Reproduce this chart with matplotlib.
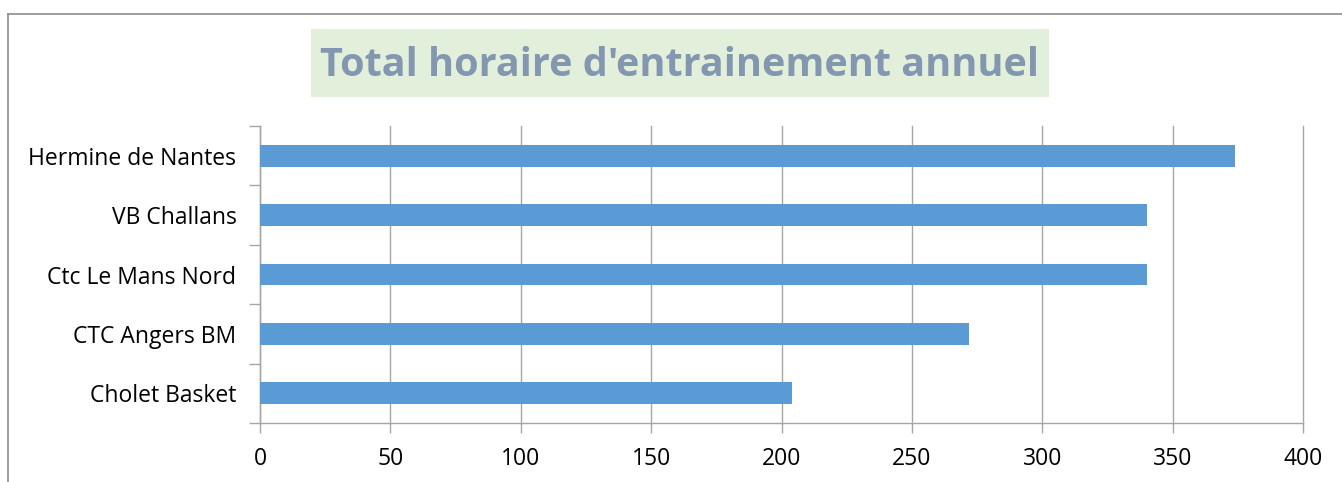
import matplotlib
matplotlib.use("Agg")
import matplotlib.pyplot as plt
from matplotlib.lines import Line2D
from matplotlib.patches import Rectangle

clubs = ["Cholet Basket", "CTC Angers BM", "Ctc Le Mans Nord", "VB Challans", "Hermine de Nantes"]
hours = [204, 272, 340, 340, 374]
xticks = [0, 50, 100, 150, 200, 250, 300, 350, 400]

W, H = 1342, 482
fig = plt.figure(figsize=(W / 100, H / 100), dpi=100)
plt.rcParams['font.family'] = ['Open Sans', 'DejaVu Sans']

# outer chart border (top and left visible only)
fig.add_artist(Line2D([8 / W, 8 / W], [0, 1 - 14 / H], transform=fig.transFigure, color='#8c8c8c', lw=1.2))
fig.add_artist(Line2D([8 / W, 1], [1 - 14 / H, 1 - 14 / H], transform=fig.transFigure, color='#8c8c8c', lw=1.2))

ax = fig.add_axes([260 / W, 1 - 423 / H, 1043 / W, 297 / H])
pos = list(range(len(clubs)))
ax.barh(pos, hours, height=0.37, color='#5B9BD5', zorder=3)

ax.set_xlim(0, 400)
ax.set_ylim(-0.5, len(clubs) - 0.5)
ax.set_xticks(xticks)
ax.set_xticklabels([str(v) for v in xticks], fontsize=16.5)
ax.set_yticks(pos)
ax.set_yticklabels(clubs, fontsize=16.5)
ax.tick_params(axis='y', length=0, pad=17)
ax.tick_params(axis='x', length=7, color='#a6a6a6', width=1, pad=10)

# y category boundary ticks
ax.set_yticks([p - 0.5 for p in range(len(clubs) + 1)], minor=True)
ax.tick_params(axis='y', which='minor', length=8, color='#a6a6a6', width=1)

ax.grid(axis='x', color='#a6a6a6', lw=1, zorder=0)
for line in ax.get_xgridlines():
    line.set_clip_on(False)
for s in ['top', 'right']:
    ax.spines[s].set_visible(False)
for s in ['left', 'bottom']:
    ax.spines[s].set_color('#a6a6a6')
    ax.spines[s].set_linewidth(1)

fig.add_artist(Rectangle((311 / W, 1 - 97 / H), 738 / W, 68 / H, transform=fig.transFigure,
                         facecolor='#E2EFDA', edgecolor='none'))
fig.text(680 / W, 1 - 66 / H, "Total horaire d'entrainement annuel", ha='center', va='center',
         fontsize=28.5, fontweight='bold', color='#8497B0')

fig.savefig("out.png", dpi=100)
